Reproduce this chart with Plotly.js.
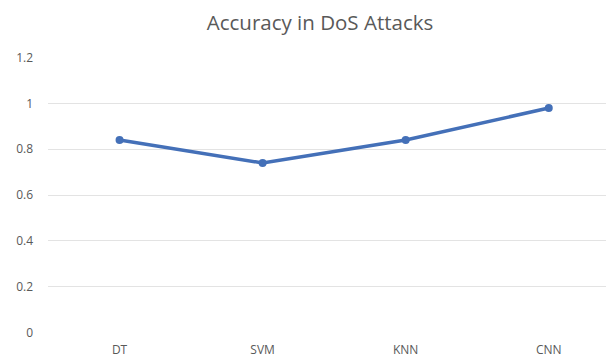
<!DOCTYPE html>
<html>
<head>
<meta charset="utf-8">
<script src="https://cdn.plot.ly/plotly-3.0.1.min.js"></script>
<style>html,body{margin:0;padding:0;background:#fff;}#chart{width:606px;height:360px;}</style>
</head>
<body>
<div id="chart"></div>
<script>
const categories = ["DT", "SVM", "KNN", "CNN"];
const accuracy = [0.84, 0.74, 0.84, 0.98];
const yTicks = [0, 0.2, 0.4, 0.6, 0.8, 1, 1.2];
const yTickLabels = ["0", "0.2", "0.4", "0.6", "0.8", "1", "1.2"];

const trace = {
  x: categories,
  y: accuracy,
  type: "scatter",
  mode: "lines+markers",
  line: {color: "#4470b8", width: 3.5},
  marker: {color: "#4470b8", size: 8},
  hoverinfo: "skip"
};

const layout = {
  width: 606,
  height: 360,
  margin: {l: 48, r: 0, t: 57, b: 27},
  paper_bgcolor: "#ffffff",
  plot_bgcolor: "#ffffff",
  showlegend: false,
  font: {family: "Open Sans, sans-serif", color: "#595959", size: 12},
  title: {
    text: "Accuracy in DoS Attacks",
    font: {family: "Open Sans, sans-serif", size: 20.5, color: "#595959"},
    x: 320 / 606,
    xref: "container",
    xanchor: "center",
    y: 1 - 23 / 360,
    yref: "container",
    yanchor: "middle"
  },
  xaxis: {
    type: "category",
    range: [-0.5, 3.4],
    showgrid: false,
    zeroline: false,
    showline: false,
    ticks: "",
    tickfont: {size: 12, color: "#595959"},
    ticklabelstandoff: 8,
    fixedrange: true
  },
  yaxis: {
    range: [-0.003, 1.203],
    tickvals: yTicks,
    ticktext: yTickLabels,
    showgrid: true,
    gridcolor: "#e3e3e3",
    gridwidth: 1,
    zeroline: false,
    showline: false,
    ticks: "",
    tickfont: {size: 12, color: "#595959"},
    ticklabelstandoff: 14,
    fixedrange: true
  }
};

Plotly.newPlot("chart", [trace], layout, {displayModeBar: false, staticPlot: true});
</script>
</body>
</html>
